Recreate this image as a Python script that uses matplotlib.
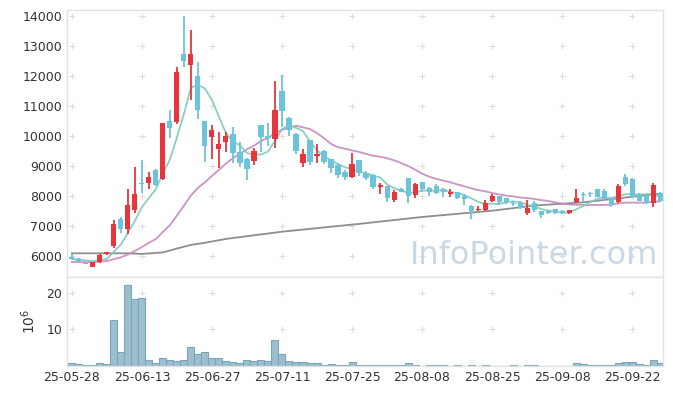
import matplotlib
matplotlib.use('Agg')
import matplotlib.pyplot as plt
import numpy as np
import pandas as pd

# daily candles (index = trading day), values in KRW
opens = [5980, 5900, 5780, 5650, 5810, 6070, 6330, 7230, 6900, 7530,
         8420, 8440, 8870, 8570, 10500, 10480, 12730, 12380, 11990, 10500,
         9980, 9570, 9810, 10060, 9480, 9230, 9180, 10370, 10000, 9890,
         11500, 10590, 10070, 9090, 9870, 9350, 9510, 9220, 9030, 8810,
         8640, 9200, 8780, 8700, 8310, 8330, 7870, 8230, 8590, 8030,
         8480, 8260, 8330, 8220, 8060, 8130, 8000, 7680, 7520, 7530,
         7840, 8000, 7920, 7780, 7760, 7440, 7780, 7500, 7480, 7560,
         7480, 7420, 7810, 8080, 8110, 8220, 8170, 7920, 7810, 8640,
         8570, 8070, 8000, 7780, 8090]
highs = [6060, 5930, 5790, 5800, 6060, 6150, 7200, 7300, 8220, 8980,
         9200, 8810, 8900, 10440, 10870, 12300, 14000, 13520, 12480, 10500,
         10370, 10120, 10140, 10300, 9810, 9260, 9590, 10380, 10420, 11840,
         12030, 10640, 10090, 9560, 9880, 9730, 9550, 9250, 9100, 8880,
         9420, 9210, 8830, 8720, 8440, 8340, 8200, 8260, 8600, 8440,
         8480, 8310, 8400, 8260, 8240, 8150, 8030, 7690, 7670, 7870,
         8070, 8010, 7940, 7840, 7830, 7870, 7850, 7510, 7520, 7580,
         7540, 7550, 8220, 8120, 8150, 8240, 8250, 7940, 8400, 8720,
         8590, 8100, 8020, 8420, 8120]
lows = [5870, 5800, 5720, 5640, 5770, 6050, 6260, 6770, 6730, 7420,
        8100, 8250, 8330, 8550, 9920, 10400, 12300, 11200, 10560, 9120,
        9250, 8920, 9480, 9100, 8980, 8530, 9030, 9480, 9670, 9590,
        10300, 10000, 9400, 8960, 9030, 9090, 9070, 8760, 8600, 8530,
        8590, 8660, 8530, 8230, 8070, 7810, 7810, 8120, 7780, 7920,
        8140, 8000, 8080, 7980, 7960, 7900, 7700, 7230, 7500, 7510,
        7800, 7700, 7720, 7670, 7560, 7370, 7480, 7260, 7400, 7410,
        7400, 7390, 7780, 7840, 7970, 7960, 7850, 7650, 7760, 8350,
        7920, 7820, 7720, 7620, 7800]
closes = [5900, 5830, 5730, 5790, 6050, 6120, 7070, 6910, 7700, 8080,
          8390, 8620, 8360, 10420, 10280, 12130, 12510, 12730, 10870, 9680,
          10200, 9730, 10000, 9440, 9090, 8890, 9510, 9980, 9940, 10870,
          10840, 10200, 9510, 9390, 9140, 9400, 9140, 8920, 8700, 8640,
          9070, 8760, 8610, 8290, 8370, 7920, 8140, 8140, 8000, 8400,
          8220, 8140, 8110, 8140, 8130, 7940, 7890, 7510, 7560, 7780,
          8000, 7810, 7810, 7720, 7610, 7610, 7530, 7370, 7450, 7420,
          7450, 7530, 7920, 8020, 8060, 7980, 7890, 7700, 8330, 8400,
          7980, 7840, 7760, 8370, 7840]
# volume, millions of shares
volumes = [0.7, 0.5, 0.3, 0.3, 0.7, 0.5, 12.5, 3.8, 22.0, 18.3,
           18.6, 1.5, 0.7, 2.1, 1.5, 1.3, 1.5, 5.1, 3.2, 3.7,
           2.1, 2.1, 1.3, 1.0, 0.7, 1.5, 1.3, 1.5, 1.3, 7.0,
           3.2, 1.3, 1.0, 1.0, 0.7, 0.7, 0.3, 0.5, 0.3, 0.2,
           1.0, 0.2, 0.2, 0.2, 0.2, 0.2, 0.2, 0.2, 0.7, 0.2,
           0.0, 0.2, 0.2, 0.2, 0.0, 0.2, 0.0, 0.2, 0.0, 0.2,
           0.0, 0.0, 0.0, 0.2, 0.0, 0.2, 0.2, 0.0, 0.0, 0.0,
           0.0, 0.0, 0.7, 0.45, 0.2, 0.2, 0.2, 0.2, 0.7, 1.0,
           1.0, 0.45, 0.2, 1.5, 0.7]
# closes before the first visible day (for moving averages)
pre_close = [5750, 5780, 5760, 5740, 5770, 5760, 5750, 5780, 5760, 5750,
             5770, 5760, 5740, 5760, 5780, 5880, 5920, 5900, 5900]
# long moving average
ma_long_idx = [0, 8, 10, 13, 15, 17, 19, 22, 30, 41, 50, 60, 66, 73, 84]
ma_long = [6090, 6090, 6070, 6120, 6250, 6370, 6440, 6570, 6810, 7070,
           7300, 7510, 7680, 7790, 8080]

tick_idx = [0, 10, 20, 30, 40, 50, 60, 70, 80]
tick_labels = ['25-05-28', '25-06-13', '25-06-27', '25-07-11', '25-07-25',
               '25-08-08', '25-08-25', '25-09-08', '25-09-22']

n = len(closes)
x = np.arange(n)
allc = pd.Series(pre_close + closes)
ma5 = allc.rolling(5).mean().values[len(pre_close):]
ma20 = allc.rolling(20).mean().values[len(pre_close):]

RED = '#e8353b'
BLUE = '#6cc4da'
GRID = '#dcdcdc'

fig = plt.figure(figsize=(6.73, 3.96), dpi=100)
ax = fig.add_axes([0.0996, 0.3005, 0.8854, 0.6742])
axv = fig.add_axes([0.0996, 0.0758, 0.8854, 0.2247], sharex=ax)

for a in (ax, axv):
    for s in a.spines.values():
        s.set_color('#e2e2e2')
        s.set_linewidth(1)
    a.tick_params(length=0, labelsize=9, colors='#333333')

# grid as little crosses
yt = np.arange(6000, 14001, 1000)
gx, gy = np.meshgrid(tick_idx, yt)
ax.scatter(gx.ravel(), gy.ravel(), marker='+', s=18, color=GRID, lw=0.8, zorder=0)
gx2, gy2 = np.meshgrid(tick_idx, [10, 20])
axv.scatter(gx2.ravel(), gy2.ravel(), marker='+', s=18, color=GRID, lw=0.8, zorder=0)

# moving averages
ax.plot(ma_long_idx, ma_long, color='#8e8e8e', lw=1.3, zorder=2)
ax.plot(x, ma20, color='#c688bd', lw=1.3, alpha=0.9, zorder=2)
ax.plot(x, ma5, color='#80c9bb', lw=1.3, alpha=0.9, zorder=2)

# candles
for i in range(n):
    o, h, l, c = opens[i], highs[i], lows[i], closes[i]
    col = RED if c >= o else BLUE
    ax.vlines(i, l, h, color=col, lw=1.3, zorder=3)
    lo, hi = min(o, c), max(o, c)
    if hi - lo < 40:
        hi = lo + 40
    ax.bar(i, hi - lo, bottom=lo, width=0.72, color=col, lw=0, zorder=4)

ax.text(0.993, 0.08, 'InfoPointer.com', transform=ax.transAxes, ha='right',
        va='center', fontsize=23, color='#c9d8e4', zorder=1)

ax.set_xlim(-0.7, 84.4)
ax.set_ylim(5300, 14200)
ax.set_yticks(yt)
ax.tick_params(axis='x', labelbottom=False)

axv.bar(x, volumes, width=1.0, color='#9bbfcf', edgecolor='#7ba6ba', lw=0.8, zorder=2)
axv.set_ylim(0, 24.3)
axv.set_yticks([10, 20])
axv.set_xticks(tick_idx)
axv.set_xticklabels(tick_labels)
axv.set_ylabel('$10^6$', fontsize=10, color='#333333', labelpad=6)

fig.savefig('out.png', dpi=100)
